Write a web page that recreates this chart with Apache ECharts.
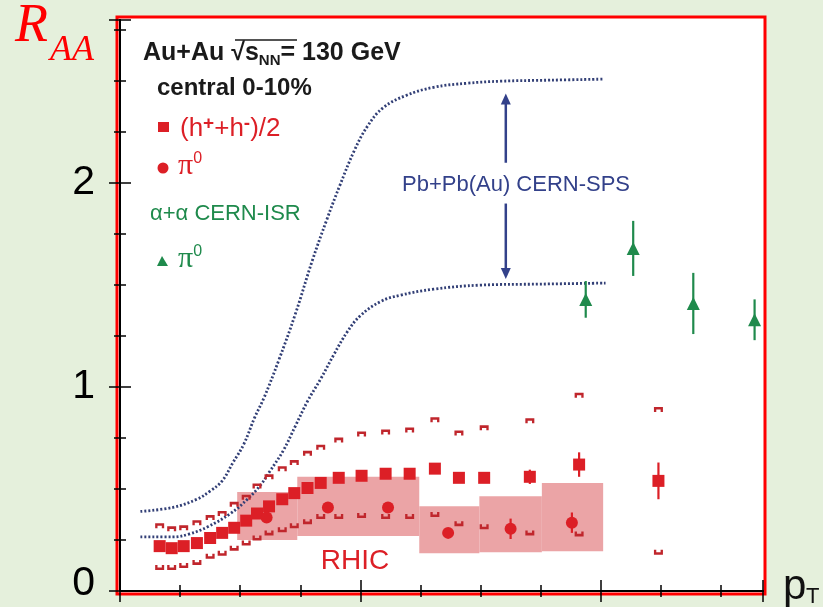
<!DOCTYPE html>
<html>
<head>
<meta charset="utf-8">
<script src="https://cdn.jsdelivr.net/npm/echarts@6/dist/echarts.min.js"></script>
<style>
  html, body { margin: 0; padding: 0; background: #e5f0dc; }
  #chart { width: 823px; height: 607px; }
</style>
</head>
<body>
<div id="chart"></div>
<script>
  'use strict'

  // axis ranges (pT in GeV/c, R_AA)
  var xMax = 5.35;
  var yMax = 2.8;

  // (h+ + h-)/2 , PHENIX 130 GeV central
  var hX      = [0.33, 0.43, 0.53, 0.64, 0.75, 0.85, 0.95, 1.05, 1.14, 1.24, 1.35, 1.45, 1.56, 1.67, 1.82, 2.01, 2.21, 2.41, 2.62, 2.82, 3.03, 3.41, 3.82, 4.48];
  var hY      = [0.22, 0.21, 0.22, 0.235, 0.26, 0.285, 0.31, 0.345, 0.38, 0.415, 0.45, 0.48, 0.505, 0.53, 0.555, 0.565, 0.575, 0.575, 0.60, 0.555, 0.555, 0.56, 0.62, 0.54];
  var hStat   = [0, 0, 0, 0, 0, 0, 0, 0, 0, 0, 0, 0, 0, 0, 0, 0, 0, 0, 0, 0, 0.02, 0.035, 0.06, 0.09];
  var hSysHi  = [0.32, 0.305, 0.31, 0.335, 0.36, 0.38, 0.425, 0.46, 0.515, 0.56, 0.60, 0.63, 0.675, 0.705, 0.74, 0.77, 0.78, 0.79, 0.84, 0.775, 0.80, 0.835, 0.96, 0.89];
  var hSysLo  = [0.115, 0.115, 0.125, 0.14, 0.17, 0.185, 0.21, 0.235, 0.26, 0.285, 0.30, 0.32, 0.34, 0.365, 0.365, 0.37, 0.365, 0.365, 0.375, 0.33, 0.315, 0.285, 0.28, 0.19];

  // pi0
  var pX    = [1.22, 1.73, 2.23, 2.73, 3.25, 3.76];
  var pY    = [0.36, 0.41, 0.41, 0.285, 0.305, 0.335];
  var pStat = [0, 0, 0, 0, 0.05, 0.05];
  // pi0 systematic boxes
  var boxX0 = [0.975, 1.475, 2.49, 2.99, 3.51];
  var boxX1 = [1.475, 2.49, 2.99, 3.51, 4.02];
  var boxLo = [0.25, 0.27, 0.185, 0.19, 0.195];
  var boxHi = [0.485, 0.56, 0.415, 0.465, 0.53];

  // alpha+alpha CERN-ISR pi0
  var aX   = [3.875, 4.27, 4.77, 5.28];
  var aY   = [1.43, 1.68, 1.41, 1.33];
  var aErr = [0.09, 0.135, 0.15, 0.10];

  // Pb+Pb(Au) CERN-SPS band edges
  var spsHiX = [0.17, 0.44, 0.64, 0.75, 0.85, 0.94, 1.03, 1.12, 1.2, 1.32, 1.46, 1.6, 1.72, 1.83, 1.95, 2.06, 2.19, 2.38, 2.61, 2.89, 3.17, 3.58, 4.02];
  var spsHiY = [0.39, 0.41, 0.45, 0.49, 0.54, 0.63, 0.72, 0.85, 0.95, 1.13, 1.36, 1.62, 1.82, 1.99, 2.16, 2.28, 2.37, 2.43, 2.47, 2.49, 2.50, 2.505, 2.51];
  var spsLoX = [0.17, 0.44, 0.58, 0.73, 0.92, 1.06, 1.17, 1.25, 1.36, 1.46, 1.56, 1.67, 1.78, 1.89, 2.0, 2.17, 2.33, 2.61, 3.0, 3.5, 4.04];
  var spsLoY = [0.265, 0.265, 0.28, 0.315, 0.38, 0.45, 0.52, 0.59, 0.69, 0.81, 0.93, 1.04, 1.16, 1.27, 1.35, 1.42, 1.45, 1.48, 1.50, 1.505, 1.51];
  // arrows  [x, from, to]
  var arrows = [[3.21, 2.10, 2.44], [3.21, 1.90, 1.53]];

  var red = '#dc1f26';
  var darkRed = '#c0262c';
  var green = '#1f8a4c';
  var blue = '#323f76';
  var sans = '"Liberation Sans", Arial, sans-serif';
  var serif = '"Liberation Serif", "Times New Roman", serif';

  function zip(a, b) { return a.map(function (v, i) { return [v, b[i]]; }); }

  var hStatData = [], pStatData = [], aErrData = [];
  hX.forEach(function (x, i) { if (hStat[i] > 0) hStatData.push([x, hY[i] - hStat[i], hY[i] + hStat[i]]); });
  pX.forEach(function (x, i) { if (pStat[i] > 0) pStatData.push([x, pY[i] - pStat[i], pY[i] + pStat[i]]); });
  aX.forEach(function (x, i) { aErrData.push([x, aY[i] - aErr[i], aY[i] + aErr[i]]); });
  var boxData = boxX0.map(function (x, i) { return [x, boxX1[i], boxLo[i], boxHi[i]]; });

  function errBar(color) {
    return function (params, api) {
      var p1 = api.coord([api.value(0), api.value(1)]);
      var p2 = api.coord([api.value(0), api.value(2)]);
      return { type: 'line', shape: { x1: p1[0], y1: p1[1], x2: p2[0], y2: p2[1] },
               style: { stroke: color, lineWidth: 2.2 } };
    };
  }
  function arrowRender(params, api) {
    var p1 = api.coord([api.value(0), api.value(1)]);
    var p2 = api.coord([api.value(0), api.value(2)]);
    var dir = p2[1] < p1[1] ? 1 : -1;
    return { type: 'group', children: [
      { type: 'line', shape: { x1: p1[0], y1: p1[1], x2: p2[0], y2: p2[1] + dir * 6 },
        style: { stroke: '#33418a', lineWidth: 2.5 } },
      { type: 'polygon', shape: { points: [[p2[0], p2[1]], [p2[0] - 5, p2[1] + dir * 11], [p2[0] + 5, p2[1] + dir * 11]] },
        style: { fill: '#33418a' } }
    ] };
  }

  var upCap = 'path://M0,0L10,0L10,5L7.4,5L7.4,2.6L2.6,2.6L2.6,5L0,5Z';
  var loCap = 'path://M0,5L10,5L10,0L7.4,0L7.4,2.4L2.6,2.4L2.6,0L0,0Z';

  function xAx(pos, interval, len, line) {
    return { type: 'value', gridIndex: 0, min: 0, max: xMax, interval: interval, position: pos,
      axisLine: { show: line, lineStyle: { color: '#000', width: 2 } },
      axisTick: { show: true, inside: true, length: len, lineStyle: { color: '#000', width: 1.5 } },
      axisLabel: { show: false }, splitLine: { show: false } };
  }
  function yAx(pos, interval, len, line, labels) {
    return { type: 'value', gridIndex: 0, min: 0, max: yMax, interval: interval, position: pos,
      axisLine: { show: line, lineStyle: { color: '#000', width: 2 } },
      axisTick: { show: true, inside: true, length: len, lineStyle: { color: '#000', width: 1.5 } },
      axisLabel: { show: labels, margin: 25, fontSize: 41, fontFamily: sans, color: '#000',
        formatter: function (v) {
          if (Math.abs(v - Math.round(v)) > 1e-6) return '';
          return v === 0 ? '{z|0}' : String(v);
        },
        rich: { z: { fontSize: 41, fontFamily: sans, color: '#000', padding: [0, 0, 14, 0] } } },
      splitLine: { show: false } };
  }

  var option = {
    animation: false,
    backgroundColor: '#e5f0dc',
    grid: [
      { left: 120, right: 60, top: 20, bottom: 16 },
      { left: 117, right: 58, top: 17, bottom: 13, show: true, z: -1,
        backgroundColor: '#fff', borderColor: '#ff0000', borderWidth: 3 }
    ],
    xAxis: [
      xAx('bottom', 0.5, 6, true), xAx('bottom', 2, 11, false),
      xAx('top', 0.5, 6, true), xAx('top', 2, 11, false),
      { gridIndex: 1, type: 'value', show: false }
    ],
    yAxis: [
      yAx('left', 0.25, 6, true, false), yAx('left', 1, 11, false, true),
      yAx('right', 0.25, 6, true, false), yAx('right', 1, 11, false, false),
      { gridIndex: 1, type: 'value', show: false }
    ],
    series: [
      { type: 'custom', name: 'pi0 syst', data: boxData, encode: { x: [0, 1], y: [2, 3] }, z: 1,
        renderItem: function (params, api) {
          var a = api.coord([api.value(0), api.value(3)]);
          var b = api.coord([api.value(1), api.value(2)]);
          return { type: 'rect', shape: { x: a[0], y: a[1], width: b[0] - a[0], height: b[1] - a[1] },
                   style: { fill: '#eba4a6' } };
        } },
      { type: 'line', name: 'SPS high', data: zip(spsHiX, spsHiY), smooth: 0.4, showSymbol: false, z: 3,
        lineStyle: { color: blue, width: 2.8, type: [2, 2] } },
      { type: 'line', name: 'SPS low', data: zip(spsLoX, spsLoY), smooth: 0.4, showSymbol: false, z: 3,
        lineStyle: { color: blue, width: 2.8, type: [2, 2] } },
      { type: 'custom', name: 'SPS arrows', data: arrows, encode: { x: 0, y: [1, 2] }, z: 3, renderItem: arrowRender },
      { type: 'scatter', name: 'h syst hi', data: zip(hX, hSysHi), symbol: upCap, symbolSize: [9, 5], z: 4,
        itemStyle: { color: darkRed, opacity: 1 } },
      { type: 'scatter', name: 'h syst lo', data: zip(hX, hSysLo), symbol: loCap, symbolSize: [9, 5], z: 4,
        itemStyle: { color: darkRed, opacity: 1 } },
      { type: 'custom', name: 'h stat', data: hStatData, encode: { x: 0, y: [1, 2] }, z: 5, renderItem: errBar(red) },
      { type: 'custom', name: 'pi0 stat', data: pStatData, encode: { x: 0, y: [1, 2] }, z: 5, renderItem: errBar(red) },
      { type: 'scatter', name: '(h+ + h-)/2', data: zip(hX, hY), symbol: 'rect', symbolSize: 12, z: 6,
        itemStyle: { color: red, opacity: 1 } },
      { type: 'scatter', name: 'pi0', data: zip(pX, pY), symbol: 'circle', symbolSize: 12, z: 6,
        itemStyle: { color: red, opacity: 1 } },
      { type: 'custom', name: 'ISR err', data: aErrData, encode: { x: 0, y: [1, 2] }, z: 5, renderItem: errBar(green) },
      { type: 'scatter', name: 'ISR pi0', data: zip(aX, aY), symbol: 'triangle', symbolSize: 13, z: 6,
        itemStyle: { color: green, opacity: 1 } }
    ],
    graphic: [
      { type: 'text', x: 15, y: 27, style: { text: 'R', font: 'italic 54px ' + serif, fill: '#ff0000', verticalAlign: 'middle' } },
      { type: 'text', x: 50, y: 51, style: { text: 'AA', font: 'italic 36px ' + serif, fill: '#ff0000', verticalAlign: 'middle' } },
      { type: 'text', x: 783, y: 587, style: { text: 'p', font: '42px ' + sans, fill: '#111', verticalAlign: 'middle' } },
      { type: 'text', x: 806, y: 597, style: { text: 'T', font: '22px ' + sans, fill: '#111', verticalAlign: 'middle' } },

      { type: 'text', x: 143, y: 53, style: {
          text: '{a|Au+Au √}{s|s}{n|NN}{a|= 130 GeV}', verticalAlign: 'middle',
          rich: {
            a: { fontSize: 25, lineHeight: 30, fontWeight: 'bold', fontFamily: sans, fill: '#1a1a1a' },
            s: { fontSize: 25, lineHeight: 30, fontWeight: 'bold', fontFamily: sans, fill: '#1a1a1a' },
            n: { fontSize: 15, lineHeight: 17, fontWeight: 'bold', fontFamily: sans, fill: '#1a1a1a', verticalAlign: 'bottom' }
          } } },
      { type: 'line', shape: { x1: 235, y1: 40, x2: 297, y2: 40 }, style: { stroke: '#1a1a1a', lineWidth: 1.5 } },
      { type: 'text', x: 157, y: 88, style: { text: 'central 0-10%', font: 'bold 24px ' + sans, fill: '#1a1a1a', verticalAlign: 'middle' } },

      { type: 'rect', shape: { x: 158, y: 122, width: 11, height: 10 }, style: { fill: red } },
      { type: 'text', x: 180, y: 129, style: {
          text: '{a|(h}{u|+}{a|+h}{u|-}{a|)/2}', verticalAlign: 'middle',
          rich: {
            a: { fontSize: 26, lineHeight: 30, fontFamily: sans, fill: red },
            u: { fontSize: 19, lineHeight: 16, fontWeight: 'bold', fontFamily: sans, fill: red, verticalAlign: 'top' }
          } } },
      { type: 'circle', shape: { cx: 163, cy: 168, r: 5.5 }, style: { fill: red } },
      { type: 'text', x: 178, y: 166, style: {
          text: '{a|π}{u|0}', verticalAlign: 'middle',
          rich: {
            a: { fontSize: 30, lineHeight: 30, fontFamily: serif, fill: red },
            u: { fontSize: 16, lineHeight: 16, fontFamily: sans, fill: red, verticalAlign: 'top' }
          } } },
      { type: 'text', x: 150, y: 214, style: { text: 'α+α CERN-ISR', font: '22px ' + sans, fill: green, verticalAlign: 'middle' } },
      { type: 'polygon', shape: { points: [[162, 256], [157, 266], [168, 266]] }, style: { fill: green } },
      { type: 'text', x: 178, y: 259, style: {
          text: '{a|π}{u|0}', verticalAlign: 'middle',
          rich: {
            a: { fontSize: 30, lineHeight: 30, fontFamily: serif, fill: green },
            u: { fontSize: 16, lineHeight: 16, fontFamily: sans, fill: green, verticalAlign: 'top' }
          } } },
      { type: 'text', x: 516, y: 185, style: { text: 'Pb+Pb(Au) CERN-SPS', font: '22px ' + sans, fill: '#33418a', align: 'center', verticalAlign: 'middle' } },
      { type: 'text', x: 355, y: 561, style: { text: 'RHIC', font: '28px ' + sans, fill: red, align: 'center', verticalAlign: 'middle' } }
    ]
  };

  var chart = echarts.init(document.getElementById('chart'));
  chart.setOption(option);
</script>
</body>
</html>
